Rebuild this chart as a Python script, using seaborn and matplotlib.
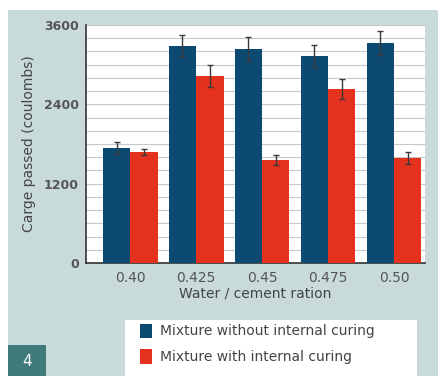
import numpy as np
import pandas as pd
import matplotlib
matplotlib.use('Agg')
import matplotlib.pyplot as plt
from matplotlib.patches import Rectangle, Patch
import seaborn as sns

# veriler
ratios = ['0.40', '0.425', '0.45', '0.475', '0.50']
without_curing = [1740, 3280, 3240, 3130, 3330]
with_curing = [1680, 2830, 1560, 2630, 1590]
err_without = [90, 170, 180, 165, 180]
err_with = [40, 165, 75, 150, 90]
series = ['Mixture without internal curing', 'Mixture with internal curing']

df = pd.DataFrame({
    'ratio': ratios * 2,
    'value': without_curing + with_curing,
    'err': err_without + err_with,
    'series': [series[0]] * 5 + [series[1]] * 5,
})

blue = '#0c4a72'
red = '#e5321f'
panel = '#c8dbda'

sns.set_style('white')
plt.rcParams['font.family'] = ['DejaVu Sans']

fig = plt.figure(figsize=(4.39, 3.76), dpi=100)
fig.patch.set_facecolor('white')

# arka plan paneli
fig.add_artist(Rectangle((8 / 439, 0), 1, 1 - 10 / 376, transform=fig.transFigure,
                         facecolor=panel, edgecolor='none', zorder=0))

ax = fig.add_axes([86 / 439, 1 - 263 / 376, (425 - 86) / 439, (263 - 25) / 376])
ax.set_facecolor('white')

sns.barplot(data=df, x='ratio', y='value', hue='series', order=ratios,
            palette=[blue, red], saturation=1, width=0.83, errorbar=None, ax=ax,
            legend=False, linewidth=0, zorder=3)

# hata çubukları
for cont, errs, vals in zip(ax.containers, [err_without, err_with],
                            [without_curing, with_curing]):
    xs = [p.get_x() + p.get_width() / 2 for p in cont.patches]
    ax.errorbar(xs, vals, yerr=errs, fmt='none', ecolor='#3a3a3a',
                elinewidth=1.0, capsize=2, capthick=1.0, zorder=4)

ax.set_ylim(0, 3600)
ax.set_xlim(-0.67, 4.47)
ax.set_yticks([0, 1200, 2400, 3600])
ax.set_yticks(np.arange(0, 3601, 200), minor=True)
ax.yaxis.grid(True, which='both', color='#c8c8c8', linewidth=0.8, zorder=0)
ax.set_axisbelow(True)

for s in ['top', 'right']:
    ax.spines[s].set_visible(False)
ax.spines['left'].set_color('#333333')
ax.spines['bottom'].set_color('#333333')
ax.spines['left'].set_linewidth(1.2)
ax.spines['bottom'].set_linewidth(1.2)

ax.tick_params(axis='y', which='major', length=4, width=1, color='#333333',
               labelsize=9, labelcolor='#555555', pad=1)
ax.tick_params(axis='y', which='minor', length=3, width=0.8, color='#555555')
ax.tick_params(axis='x', length=0, labelsize=10, labelcolor='#555555', pad=6)
for lab in ax.get_yticklabels():
    lab.set_fontweight('bold')

ax.set_xlabel('Water / cement ration', fontsize=10, color='#444444', labelpad=1)
ax.set_ylabel('Carge passed (coulombs)', fontsize=10, color='#444444', labelpad=6)

# lejant kutusu
fig.add_artist(Rectangle((125 / 439, 0), (417 - 125) / 439, 1 - 320 / 376,
                         transform=fig.transFigure, facecolor='white',
                         edgecolor='none', zorder=1))
handles = [Patch(facecolor=blue, edgecolor='none'), Patch(facecolor=red, edgecolor='none')]
fig.legend(handles, series, loc='upper left', bbox_to_anchor=(128 / 439, 1 - 311 / 376),
           frameon=False, fontsize=10, handlelength=0.8, handleheight=1.2,
           handletextpad=0.6, labelspacing=0.8, labelcolor='#444444')

# şekil numarası kutusu
fig.add_artist(Rectangle((8 / 439, 0), (46 - 8) / 439, 1 - 345 / 376,
                         transform=fig.transFigure, facecolor='#3e7b7a',
                         edgecolor='none', zorder=1))
fig.text(27 / 439, 1 - 361 / 376, '4', color='white', fontsize=11,
         ha='center', va='center', zorder=2)

fig.savefig('out.png', dpi=100, facecolor=fig.get_facecolor())
